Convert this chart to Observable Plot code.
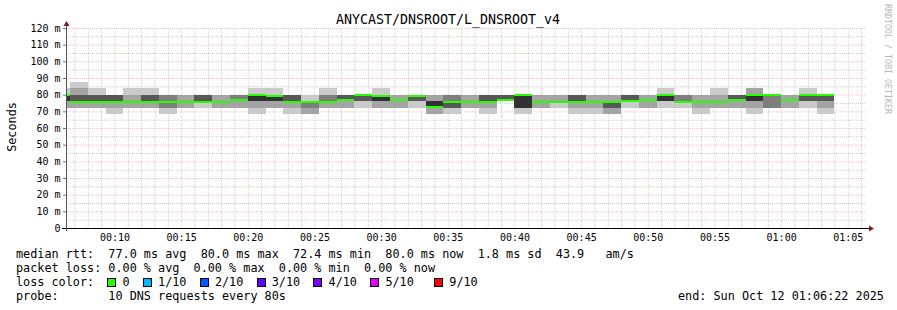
<!DOCTYPE html>
<html><head><meta charset="utf-8">
<script src="https://cdn.jsdelivr.net/npm/d3@7"></script>
<script src="https://cdn.jsdelivr.net/npm/@observablehq/plot@0.6"></script>
<style>
html,body{margin:0;padding:0;background:#fff;}
#chart{width:897px;height:310px;}
svg text{white-space:pre;}
</style></head><body><div id="chart"></div>
<script>
// ---- data ----
const title = "ANYCAST/DNSROOT/L_DNSROOT_v4";
const yLabel = "Seconds";
const credit = "RRDTOOL / TOBI OETIKER";
const yTicks = [0, 10, 20, 30, 40, 50, 60, 70, 80, 90, 100, 110, 120];
const xTickLabels = ["00:10","00:15","00:20","00:25","00:30","00:35","00:40","00:45","00:50","00:55","01:00","01:05"];
const day = "2025-10-12";
const viewStart = "2025-10-12T00:06:22Z";
const viewEnd = "2025-10-12T01:06:22Z";
const firstStep = "2025-10-12T00:05:20Z";
const stepSeconds = 80;

// median RTT per 80 s step (ms)
const medianRtt = [80.0,
  75.8,75.8,75.8,75.8,75.8,75.8,75.8,75.8,75.8,76.8,
  80.0,79.4,75.8,75.8,75.8,76.8,80.0,79.4,76.8,79.4,
  72.4,75.8,75.8,75.8,76.8,80.0,75.8,75.8,75.8,75.8,
  75.8,76.3,76.8,80.0,75.8,75.8,75.8,76.8,80.0,80.0,
  76.8,80.0,80.0];

// the 10 sorted ping times per step (ms)
const pingSets = [
  [72.1,72.1,76,76,76,80,80,80,80,83.9],
  [72.1,72.1,76,76,76,76,80,80,83.9,87.8],
  [72.1,72.1,76,76,76,76,80,80,80,83.9],
  [68.2,72.1,76,76,76,76,80,80,80,80],
  [72.1,72.1,76,76,76,76,76,76,80,83.9],
  [72.1,72.1,76,76,76,76,80,80,80,83.9],
  [68.2,72.1,72.1,76,76,76,76,80,80,80],
  [72.1,72.1,76,76,76,76,76,76,80,80],
  [72.1,76,76,76,76,76,80,80,80,80],
  [72.1,72.1,76,76,76,76,76,76,80,80],
  [72.1,72.1,76.8,76.8,76.8,76.8,76.8,80,80,80],
  [68.2,72.1,76,76,76,80,80,80,80,83.9],
  [72.1,72.1,76,76,76,79.4,79.4,79.4,79.4,83.9],
  [68.2,72.1,76,76,76,76,80,80,80,80],
  [68.2,68.2,72.1,76,76,76,76,76,76,80],
  [72.1,72.1,76,76,76,76,76,80,80,83.9],
  [72.1,72.1,76.8,76.8,76.8,76.8,80,80,80,80],
  [72.1,76,76,76,76,76,80,80,80,80],
  [72.1,72.1,76,76,76,79.4,79.4,79.4,79.4,83.9],
  [72.1,72.1,76.8,76.8,76.8,76.8,76.8,76.8,80,80],
  [72.1,76,76,76,76,76,79.4,79.4,79.4,79.4],
  [68.2,68.2,72.4,72.4,72.4,76,76,76,80,80],
  [68.2,72.1,72.1,72.1,76,76,76,80,80,80],
  [72.1,72.1,76,76,76,76,76,76,80,80],
  [68.2,72.1,76,76,76,76,80,80,80,80],
  [76.8,76.8,76.8,76.8,76.8,76.8,80,80,80,80],
  [68.2,72.1,72.1,72.1,72.1,80,80,80,80,80],
  [72.1,72.1,76,76,76,76,76,76,80,80],
  [72.1,76,76,76,76,76,76,76,80,80],
  [68.2,72.1,76,76,76,76,80,80,80,80],
  [68.2,72.1,76,76,76,76,76,76,80,80],
  [68.2,68.2,72.1,72.1,76,76,76,76,80,80],
  [72.1,76,76,76,76,76,80,80,80,80],
  [72.1,72.1,76.8,76.8,76.8,76.8,76.8,76.8,80,80],
  [72.1,76,76,76,76,80,80,80,80,83.9],
  [72.1,76,76,76,76,76,76,80,80,80],
  [68.2,72.1,76,76,76,76,76,76,80,80],
  [72.1,72.1,76,76,76,76,76,76,80,83.9],
  [72.1,72.1,76.8,76.8,76.8,76.8,80,80,80,80],
  [68.2,72.1,76,76,76,80,80,80,83.9,83.9],
  [72.1,72.1,72.1,76,76,76,76,80,80,80],
  [72.1,72.1,76.8,76.8,76.8,76.8,76.8,76.8,80,80],
  [72.1,76,76,76,76,76,80,80,80,83.9],
  [68.2,72.1,76,76,76,76,80,80,80,80]
];

const lossLabels = ["0", "1/10", "2/10", "3/10", "4/10", "5/10", "9/10"];
const lossColors = ["#26ff00", "#00b8ff", "#0059ff", "#5e00ff", "#7e00ff", "#dd00ff", "#ff0000"];
const lossCols = [13, 18, 26, 34, 42, 50, 59];
const statLine1 = "median rtt:  77.0 ms avg  80.0 ms max  72.4 ms min  80.0 ms now  1.8 ms sd  43.9   am/s";
const statLine2 = "packet loss: 0.00 % avg  0.00 % max  0.00 % min  0.00 % now";
const lossTitle = "loss color:";
const probeLine = "probe:       10 DNS requests every 80s";
const endLine = "end: Sun Oct 12 01:06:22 2025";

// ---- styles ----
const smokeColors = ["#cacaca", "#a4a4a4", "#7e7e7e", "#585858", "#323232"];
const gridColor = "rgb(143,143,143)";
const mgridColor = "rgb(222,79,79)";
const arrowColor = "#7f1f1f";
const mono = "'DejaVu Sans Mono', monospace";
const legendSize = 11.8;
const cw = legendSize * 0.602;

// ---- build ----
const x0 = new Date(viewStart), x1 = new Date(viewEnd);
const stepMs = stepSeconds * 1000;
const t0 = new Date(firstStep).getTime();
const smoke = [];
for (let b = 0; b < 5; b++) {
  pingSets.forEach((p, i) => {
    smoke.push({x1: new Date(t0 + i * stepMs), x2: new Date(t0 + (i + 1) * stepMs),
                y1: p[b], y2: p[9 - b], fill: smokeColors[b]});
  });
}
const med = medianRtt.map((m, i) => ({x1: new Date(t0 + i * stepMs), x2: new Date(t0 + (i + 1) * stepMs),
                                       y1: m - 0.6, y2: m + 0.6}));
const xTicks = xTickLabels.map(s => new Date(`${day}T${s}:00Z`));
const minuteTicks = d3.utcMinute.range(x0, x1).filter(d => d.getUTCMinutes() % 5 !== 0);
const minorY = d3.range(5, 120, 10);

const plot = Plot.plot({
  width: 897, height: 310,
  marginLeft: 66, marginRight: 31, marginTop: 28, marginBottom: 82,
  style: {fontFamily: mono, fontSize: "10px", background: "#fff", color: "#000"},
  x: {type: "utc", domain: [x0, x1], label: null},
  y: {domain: [0, 120], label: null},
  color: {type: "identity"},
  marks: [
    Plot.ruleY(minorY, {stroke: gridColor, strokeOpacity: 0.45, strokeDasharray: "1,1"}),
    Plot.ruleX(minuteTicks, {stroke: gridColor, strokeOpacity: 0.45, strokeDasharray: "1,1"}),
    Plot.ruleY(yTicks.filter(d => d > 0), {stroke: mgridColor, strokeOpacity: 0.32, strokeDasharray: "1,1"}),
    Plot.ruleX(xTicks, {stroke: mgridColor, strokeOpacity: 0.32, strokeDasharray: "1,1"}),
    Plot.rect(smoke, {x1: "x1", x2: "x2", y1: "y1", y2: "y2", fill: "fill", clip: true, shapeRendering: "crispEdges"}),
    Plot.rect(med, {x1: "x1", x2: "x2", y1: "y1", y2: "y2", fill: lossColors[0], clip: true, shapeRendering: "crispEdges"}),
    Plot.axisY(yTicks, {tickFormat: d => d === 0 ? "0" : `${d} m`, tickSize: 3, tickPadding: 3, stroke: "#777", fill: "#000", fontSize: 10, label: null}),
    Plot.axisX(xTicks, {tickFormat: d3.utcFormat("%H:%M"), tickSize: 0, tickPadding: 5, fill: "#000", fontSize: 10, label: null})
  ]
});
document.getElementById("chart").appendChild(plot);

// ---- axes lines, arrows, texts ----
const svg = d3.select(plot);
const sx = plot.scale("x").apply, sy = plot.scale("y").apply;
const pxL = Math.round(sx(x0)), pxR = Math.round(sx(x1));
const pxB = Math.round(sy(0)), pxT = Math.round(sy(120));
const g = svg.append("g").attr("text-anchor", "start");
g.append("line").attr("x1", pxL - 4).attr("x2", pxR + 3).attr("y1", pxB + 0.5).attr("y2", pxB + 0.5)
  .attr("stroke", "#000").attr("stroke-width", 1);
g.append("line").attr("x1", pxL + 0.5).attr("x2", pxL + 0.5).attr("y1", pxT - 3).attr("y2", pxB + 3)
  .attr("stroke", "#555").attr("stroke-width", 1);
g.append("path").attr("d", `M${pxL - 2.5},${pxT - 2} L${pxL + 0.5},${pxT - 7} L${pxL + 3.5},${pxT - 2} Z`).attr("fill", arrowColor);
g.append("path").attr("d", `M${pxR + 3},${pxB - 2.5} L${pxR + 8},${pxB + 0.5} L${pxR + 3},${pxB + 3.5} Z`).attr("fill", arrowColor);

const txt = (x, y, s, size, extra = {}) => {
  const t = g.append("text").attr("x", x).attr("y", y).attr("font-family", mono)
    .attr("font-size", size).attr("fill", extra.fill || "#000").attr("xml:space", "preserve")
    .attr("text-anchor", extra.anchor || "start").text(s);
  if (extra.transform) t.attr("transform", extra.transform).attr("x", 0).attr("y", 0);
  return t;
};
txt(448, 23.5, title, 13.3, {anchor: "middle"});
txt(0, 0, yLabel, legendSize, {anchor: "middle", transform: "translate(15.5,127) rotate(-90)"});
txt(0, 0, credit, 8.3, {fill: "#b8b8b8", transform: "translate(884.5,4) rotate(90)"});

const lx = 16;
const lines = [257.5, 271.7, 285.9, 300.1];
txt(lx, lines[0], statLine1, legendSize);
txt(lx, lines[1], statLine2, legendSize);
txt(lx, lines[2], lossTitle, legendSize);
lossLabels.forEach((lab, i) => {
  const bx = Math.round(lx + lossCols[i] * cw - 1);
  g.append("rect").attr("x", bx + 0.5).attr("y", Math.round(lines[2] - 7) - 0.5).attr("width", 8).attr("height", 8)
    .attr("fill", lossColors[i]).attr("stroke", "#000").attr("stroke-width", 1);
  txt(lx + (lossCols[i] + 2) * cw, lines[2], lab, legendSize);
});
txt(lx, lines[3], probeLine, legendSize);
txt(678, lines[3], endLine, legendSize);
</script>
</body></html>
